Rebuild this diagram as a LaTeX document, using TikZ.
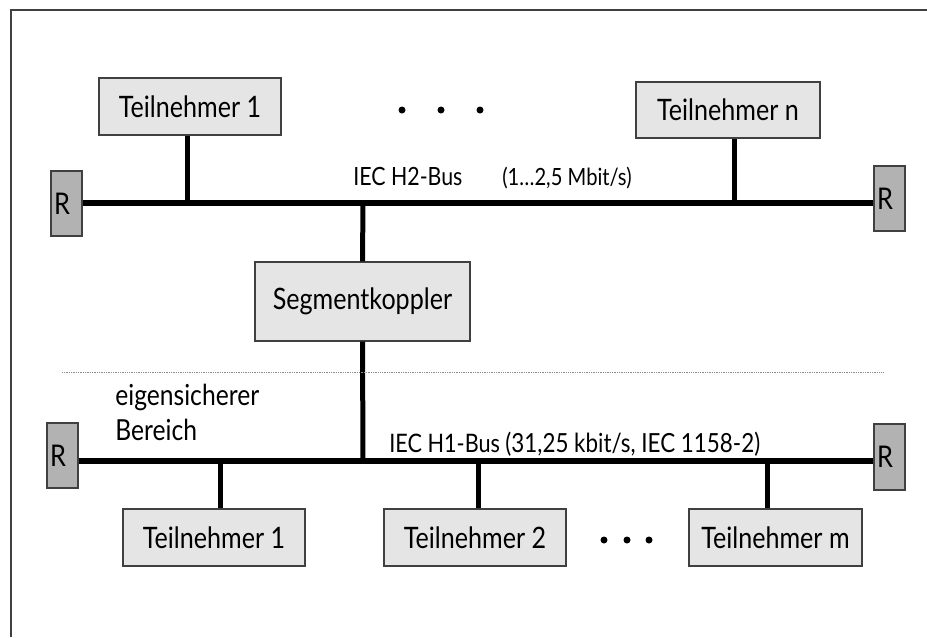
\documentclass[tikz,border=0pt]{standalone}
\usepackage{fontspec}
\setmainfont[FakeStretch=0.85]{Lato}
\tikzset{
  unitbox/.style={draw=black!75, line width=0.8pt, fill=black!10, minimum height=1.14cm, inner sep=0pt, font=\fontsize{16.8pt}{19pt}\selectfont},
  termbox/.style={draw=black!75, line width=0.8pt, fill=black!30, minimum width=0.62cm, minimum height=1.3cm, text width=0.5cm, align=left, inner xsep=0.06cm, inner ysep=0pt, font=\fontsize{17pt}{19pt}\selectfont},
  busline/.style={line width=0.12cm},
  stubline/.style={line width=0.1cm},
  buslabel/.style={anchor=base west, inner sep=0pt}
}
\begin{document}
\begin{tikzpicture}[x=0.02cm, y=-0.02cm]
\useasboundingbox (0, 0) rectangle (927, 637);
\draw [line width=1.1pt, black!75] (11, 637) -- (11, 10) -- (927, 10);

\node (tn1) at (190, 106.5) [unitbox, minimum width=3.64cm] {Teilnehmer 1};
\node (tnn) at (728, 110) [unitbox, minimum width=3.68cm, minimum height=1.12cm] {Teilnehmer n};
\node (seg) at (362.5, 301.5) [unitbox, minimum width=4.3cm, minimum height=1.58cm] {Segmentkoppler};
\node (tb1) at (214, 537.5) [unitbox, minimum width=3.64cm] {Teilnehmer 1};
\node (tb2) at (475, 537.5) [unitbox, minimum width=3.64cm] {Teilnehmer 2};
\node (tbm) at (775.5, 537.5) [unitbox, minimum width=3.46cm] {Teilnehmer m};

\node (rl2) at (66.5, 203.5) [termbox] {R};
\node (rr2) at (889.5, 198.5) [termbox] {R};
\node (rl1) at (62.5, 455.5) [termbox] {R};
\node (rr1) at (889.5, 457) [termbox, minimum height=1.32cm] {R};

\coordinate (h2) at (363, 203);
\coordinate (h1) at (363, 461);
\coordinate (u1) at (187, 203);
\coordinate (un) at (734, 203);
\coordinate (d1) at (220, 461);
\coordinate (d2) at (478, 461);
\coordinate (dm) at (767, 461);

\draw [busline] (rl2.east |- h2) -- (rr2.west |- h2);
\draw [busline] (rl1.east |- h1) -- (rr1.west |- h1);
\draw [stubline] (u1) -- (u1 |- tn1.south);
\draw [stubline] (un) -- (un |- tnn.south);
\draw [stubline] (seg.north) -- (h2);
\draw [stubline] (seg.south) -- (h1);
\draw [stubline] (d1) -- (d1 |- tb1.north);
\draw [stubline] (d2) -- (d2 |- tb2.north);
\draw [stubline] (dm) -- (dm |- tbm.north);

\draw [black!45, line width=0.5pt, dash pattern=on 0.5pt off 0.5pt] (62, 372) -- (883, 372);

\foreach \x in {402, 441, 480} \fill (\x, 110) circle (0.07cm);
\foreach \x in {604, 627, 649} \fill (\x, 540) circle (0.07cm);

\node (h2name) at (353, 185) [buslabel, font=\fontsize{14.3pt}{16pt}\selectfont] {IEC H2-Bus};
\node (h2rate) at (502, 185) [buslabel, font=\fontsize{13.5pt}{15pt}\selectfont] {(1…2,5 Mbit/s)};
\node (h1name) at (389, 452) [buslabel, font=\fontsize{14.5pt}{16pt}\selectfont] {IEC H1-Bus \fontsize{15pt}{16pt}\selectfont(31,25 kbit/s, IEC 1158-2)};
\node (zone) at (115, 384) [anchor=north west, align=left, inner sep=0pt, font=\fontsize{16.5pt}{20pt}\selectfont] {eigensicherer\\Bereich};
\end{tikzpicture}
\end{document}
